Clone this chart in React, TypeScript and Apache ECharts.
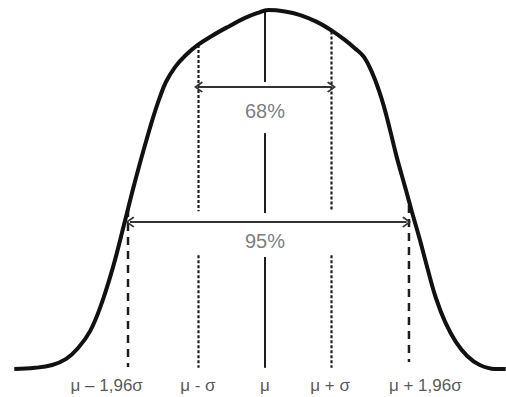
import React, { useEffect, useRef } from "react";
import * as echarts from "echarts";

// x in units of sigma (mu = 0), y = relative curve height (peak = 1)
const curveU = [-3.77, -3.46, -3.2, -2.99, -2.81, -2.63, -2.47, -2.29, -2.11, -2.0, -1.88, -1.77, -1.68, -1.59, -1.49, -1.35, -1.19, -1.01, -0.8, -0.56, -0.3, -0.11, 0.05, 0.3, 0.53, 0.78, 1.01, 1.2, 1.35, 1.49, 1.62, 1.71, 1.79, 1.88, 1.98, 2.11, 2.21, 2.33, 2.45, 2.57, 2.71, 2.87, 3.04, 3.23, 3.46, 3.62];
const curveH = [0.003, 0.006, 0.014, 0.031, 0.061, 0.108, 0.178, 0.283, 0.411, 0.492, 0.575, 0.647, 0.703, 0.753, 0.8, 0.842, 0.875, 0.903, 0.928, 0.953, 0.978, 0.992, 1.0, 0.996, 0.986, 0.967, 0.942, 0.917, 0.894, 0.869, 0.822, 0.778, 0.731, 0.667, 0.592, 0.506, 0.439, 0.361, 0.278, 0.2, 0.133, 0.078, 0.039, 0.014, 0.003, 0.003];

// vertical reference lines: x position and [top, bottom] segments
const meanX = 0;
const meanSegments = [[1.0, 0.8], [0.658, 0.436], [0.314, 0.006]];
const sigmaLeftX = -1.0;
const sigmaLeftSegments = [[0.903, 0.441], [0.319, 0.006]];
const sigmaRightX = 1.0;
const sigmaRightSegments = [[0.94, 0.441], [0.319, 0.006]];
const z196LeftX = -2.06;
const z196LeftSegments = [[0.447, 0.008]];
const z196RightX = 2.165;
const z196RightSegments = [[0.458, 0.022]];

// interval arrows: [from, to, height]
const arrow68 = [-1.0, 1.0, 0.786];
const arrow95 = [-2.03, 2.13, 0.411];

// percent labels
const percentNames = ["68%", "95%"];
const percentX = [0, 0];
const percentY = [0.719, 0.357];

// bottom labels
const tickNames = ["μ – 1,96σ", "μ - σ", "μ", "μ + σ", "μ + 1,96σ"];
const tickX = [-2.38, -1.01, 0, 0.98, 2.41];
const tickY = -0.044;

const FONT = "'Liberation Sans', Arial, Helvetica, sans-serif";
const chevron = "path://M10,0 L20,11 L18,13 L10,4 L2,13 L0,11 Z";

function segSeries(x: number, segs: number[][], dash: number[] | "solid", width: number) {
  return segs.map((s) => ({
    type: "line",
    data: [[x, s[0]], [x, s[1]]],
    symbol: "none",
    silent: true,
    lineStyle: { color: "#1e1e1e", width, type: dash },
    z: 2,
  }));
}

export default function App() {
  const ref = useRef<HTMLDivElement>(null);
  useEffect(() => {
    if (!ref.current) return;
    const chart = echarts.init(ref.current, undefined, { renderer: "svg" });
    const curveData = curveU.map((u, i) => [u, curveH[i]]);
    const arrowLine = (a: number[]) => [
      { coord: [a[0], a[2]] },
      { coord: [a[1], a[2]] },
    ];
    chart.setOption({
      animation: false,
      backgroundColor: "#ffffff",
      grid: { left: 0, top: 10, width: 506, height: 360 },
      xAxis: { type: "value", min: -3.985, max: 3.624, show: false },
      yAxis: { type: "value", min: 0, max: 1, show: false },
      series: [
        {
          type: "line",
          data: curveData,
          smooth: 0.4,
          symbol: "none",
          silent: true,
          lineStyle: { color: "#111111", width: 4 },
          z: 3,
          markLine: {
            silent: true,
            symbol: [chevron, chevron],
            symbolSize: [11, 9],
            label: { show: false },
            lineStyle: { color: "#333333", width: 2, type: "solid" },
            data: [arrowLine(arrow68), arrowLine(arrow95)],
          },
        },
        ...segSeries(meanX, meanSegments, "solid", 2),
        ...segSeries(sigmaLeftX, sigmaLeftSegments, [3, 2], 2.2),
        ...segSeries(sigmaRightX, sigmaRightSegments, [3, 2], 2.2),
        ...segSeries(z196LeftX, z196LeftSegments, [8, 6], 2.5),
        ...segSeries(z196RightX, z196RightSegments, [8, 6], 2.5),
        {
          type: "scatter",
          clip: false,
          silent: true,
          symbolSize: 0,
          data: percentNames.map((n, i) => ({ name: n, value: [percentX[i], percentY[i]] })),
          label: {
            show: true,
            position: "inside",
            formatter: "{b}",
            fontFamily: FONT,
            fontSize: 20,
            color: "#5a5a5a",
          },
        },
        {
          type: "scatter",
          clip: false,
          silent: true,
          symbolSize: 0,
          data: tickNames.map((n, i) => ({ name: n, value: [tickX[i], tickY] })),
          label: {
            show: true,
            position: "inside",
            formatter: "{b}",
            fontFamily: FONT,
            fontSize: 17,
            color: "#2a2a2a",
          },
        },
      ],
    });
    return () => chart.dispose();
  }, []);
  return (
    <div
      ref={ref}
      style={{ position: "absolute", left: 0, top: 0, width: 506, height: 397, background: "#fff" }}
    />
  );
}
